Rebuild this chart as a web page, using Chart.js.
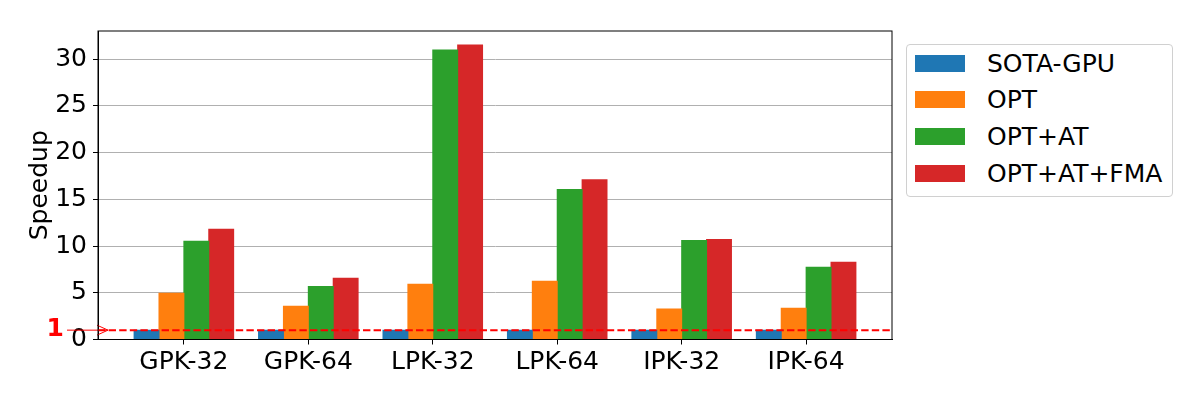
<!DOCTYPE html>
<html>
<head>
<meta charset="utf-8">
<script src="https://cdn.jsdelivr.net/npm/chart.js@4/dist/chart.umd.min.js"></script>
<style>
  body { margin: 0; background: #fff; }
  #wrap { position: relative; width: 1200px; height: 400px; }
  #legend {
    position: absolute; left: 906px; top: 44px; width: 265px; height: 151px;
    border: 1px solid #d0d0d0; border-radius: 4px; background: #fff;
    font-family: "DejaVu Sans", sans-serif; font-size: 25px; color: #000;
  }
  .row { display: flex; align-items: center; height: 36.67px; }
  .sw { width: 50px; height: 17px; margin-left: 8px; margin-right: 22px; }
</style>
</head>
<body>
<div id="wrap">
  <canvas id="chart" width="1200" height="400"></canvas>
  <div id="legend"></div>
</div>
<script>
const categories = ["GPK-32", "GPK-64", "LPK-32", "LPK-64", "IPK-32", "IPK-64"];
const sotaGpu = [1, 1, 1, 1, 1, 1];
const opt = [4.95, 3.55, 5.9, 6.24, 3.25, 3.35];
const optAt = [10.5, 5.67, 30.97, 16.04, 10.6, 7.73];
const optAtFma = [11.78, 6.55, 31.5, 17.1, 10.7, 8.26];
const baseline = 1;

const seriesNames = ["SOTA-GPU", "OPT", "OPT+AT", "OPT+AT+FMA"];
const seriesColors = ["#1f77b4", "#ff7f0e", "#2ca02c", "#d62728"];

Chart.defaults.font.family = "'DejaVu Sans', sans-serif";
Chart.defaults.color = "#000";

const toPoints = (vals) => vals.map((v, i) => ({ x: i, y: v }));

// box around the plot, the dashed speedup=1 line and the "1 ->" marker
const extras = {
  id: "extras",
  afterDraw(chart) {
    const { ctx, chartArea: a } = chart;
    const y1 = chart.scales.y.getPixelForValue(baseline);
    ctx.save();
    ctx.strokeStyle = "red";
    ctx.lineWidth = 2;
    ctx.setLineDash([7.4, 3.2]);
    ctx.beginPath();
    ctx.moveTo(a.left, y1);
    ctx.lineTo(a.right, y1);
    ctx.stroke();
    ctx.setLineDash([]);

    // arrow
    ctx.lineWidth = 1;
    const tail = a.left - 31, tip = a.left + 10;
    ctx.beginPath();
    ctx.moveTo(tail, y1);
    ctx.lineTo(tip, y1);
    ctx.moveTo(tip - 11, y1 - 5);
    ctx.lineTo(tip, y1);
    ctx.lineTo(tip - 11, y1 + 5);
    ctx.stroke();

    ctx.fillStyle = "red";
    ctx.font = "bold 25px 'DejaVu Sans'";
    ctx.textAlign = "right";
    ctx.textBaseline = "middle";
    ctx.fillText("1", a.left - 34, y1 - 1);

    ctx.strokeStyle = "#000";
    ctx.lineWidth = 1;
    ctx.strokeRect(a.left, a.top, a.right - a.left, a.bottom - a.top);
    ctx.restore();
  }
};

const chart = new Chart(document.getElementById("chart"), {
  type: "bar",
  data: {
    datasets: [sotaGpu, opt, optAt, optAtFma].map((vals, k) => ({
      label: seriesNames[k],
      data: toPoints(vals),
      backgroundColor: seriesColors[k],
      borderWidth: 0,
      inflateAmount: 0.5,
      categoryPercentage: 0.8,
      barPercentage: 1.0
    }))
  },
  options: {
    responsive: false,
    devicePixelRatio: 1,
    animation: false,
    layout: { padding: { left: 0, top: 31, right: 308, bottom: 0 } },
    plugins: { legend: { display: false }, tooltip: { enabled: false } },
    scales: {
      x: {
        type: "linear",
        min: -0.69,
        max: 5.69,
        offset: false,
        afterBuildTicks: (axis) => { axis.ticks = categories.map((c, i) => ({ value: i })); },
        afterFit: (axis) => { axis.height = 60.5; },
        ticks: {
          callback: (v) => categories[v],
          font: { size: 25 },
          padding: 3,
          maxRotation: 0,
          autoSkip: false
        },
        grid: { offset: false, drawOnChartArea: false, drawTicks: true, tickLength: 5, tickColor: "#000" },
        border: { color: "#000", width: 1 }
      },
      y: {
        min: 0,
        max: 33,
        z: 1,
        afterFit: (axis) => { axis.width = 98; },
        ticks: { stepSize: 5, includeBounds: false, font: { size: 25 }, padding: 6 },
        grid: { color: "#b0b0b0", lineWidth: 1, tickLength: 5, tickColor: "#000" },
        border: { color: "#000", width: 1 },
        title: { display: true, text: "Speedup", font: { size: 25 }, padding: { top: 25, bottom: 0 } }
      }
    }
  },
  plugins: [extras]
});

// legend built from the datasets
const legend = document.getElementById("legend");
chart.data.datasets.forEach((ds) => {
  const row = document.createElement("div");
  row.className = "row";
  const sw = document.createElement("span");
  sw.className = "sw";
  sw.style.background = ds.backgroundColor;
  const label = document.createElement("span");
  label.textContent = ds.label;
  row.appendChild(sw);
  row.appendChild(label);
  legend.appendChild(row);
});
</script>
</body>
</html>
